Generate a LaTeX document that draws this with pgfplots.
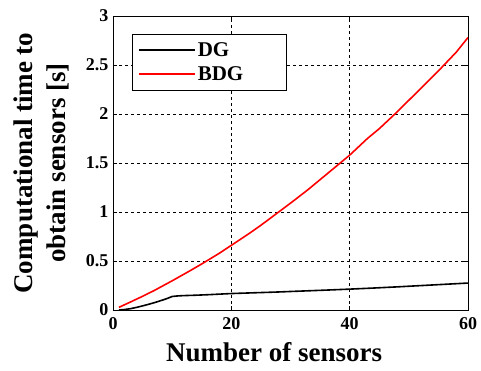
\documentclass[border=0pt]{standalone}
\usepackage{pgfplots}
\pgfplotsset{compat=1.18}
\usepackage{fontspec}
\setmainfont{Liberation Serif}
\begin{document}
\begin{tikzpicture}
\begin{axis}[
  scale only axis,
  width=355pt, height=294pt,
  xmin=0, xmax=60, ymin=0, ymax=3,
  xtick={0,20,40,60},
  ytick={0,0.5,1,1.5,2,2.5,3},
  yticklabels={\textbf{0},\textbf{0.5},\textbf{1},\textbf{1.5},\textbf{2},\textbf{2.5},\textbf{3}},
  xticklabels={\textbf{0},\textbf{20},\textbf{40},\textbf{60}},
  tick align=inside,
  tick pos=both,
  major tick length=4pt,
  grid=major,
  major grid style={black, dashed, line width=0.5pt},
  axis line style={black, line width=0.9pt},
  tick style={black, line width=0.6pt},
  /pgf/number format/assume math mode=true,
  tick label style={font=\fontsize{18}{18}\selectfont\bfseries},
  xticklabel style={yshift=-4pt},
  yticklabel style={xshift=-1pt},
  xlabel={Number of sensors},
  xlabel style={font=\fontsize{27}{30}\selectfont\bfseries, at={(axis description cs:0.454,-0.1735)}, anchor=base, inner sep=0pt},
  ylabel={Computational time to\\obtain sensors [s]},
  ylabel style={font=\fontsize{27}{33}\selectfont\bfseries, align=center, at={(axis description cs:-0.124,0.5)}, anchor=south, inner sep=0pt},
  legend style={at={(axis description cs:0.0535,0.939)}, anchor=north west, draw=black, font=\fontsize{21}{21}\selectfont\bfseries, inner xsep=6pt, inner ysep=6pt, row sep=5pt},
  legend cell align=left,
  legend image code/.code={\draw[mark repeat=2,mark phase=2,#1,line width=1.6pt] plot coordinates {(0pt,0pt) (28pt,0pt) (56pt,0pt)};},
]
\addplot[black, line width=1.6pt] coordinates {
(1,0) (2,0.005) (3,0.014) (4,0.027) (5,0.042) (6,0.058) (7,0.075) (8,0.094) (9,0.114) (10,0.138) (11,0.144) (12,0.147) (14,0.151) (16,0.156) (18,0.162) (20,0.168) (22,0.172) (25,0.178) (28,0.184) (30,0.189) (33,0.196) (36,0.203) (40,0.213) (44,0.224) (48,0.236) (52,0.249) (56,0.262) (60,0.275)
};
\addlegendentry{\makebox[80pt][l]{DG}}
\addplot[red, line width=1.6pt] coordinates {
(1,0.027) (3,0.083) (5,0.14) (7,0.2) (10,0.298) (13,0.40) (15,0.47) (18,0.58) (20,0.66) (23,0.78) (25,0.865) (28,1.0) (30,1.09) (33,1.23) (35,1.33) (38,1.48) (40,1.58) (43,1.75) (45,1.85) (48,2.02) (50,2.14) (53,2.32) (55,2.44) (58,2.63) (60,2.78)
};
\addlegendentry{\makebox[80pt][l]{BDG}}
\end{axis}
\pgfresetboundingbox
\path[use as bounding box] (-113pt,-60pt) rectangle (368pt,310pt);
\end{tikzpicture}
\end{document}
